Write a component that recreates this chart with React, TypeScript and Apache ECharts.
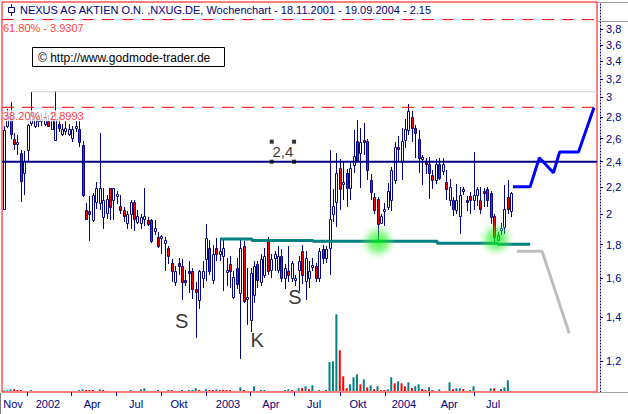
import React, { useEffect, useRef } from 'react';
import * as echarts from 'echarts';

// ---- Weekly candles (week index 0 = week of 14.11.2001) ----
const opens = [
  2.04, 2.72, 2.80, 2.60, 2.55, 2.47, 2.31, 2.50, 2.75, 2.72,
  2.76, 2.78, 2.74, 2.76, 2.69, 2.59, 2.74, 2.64, 2.67, 2.64,
  2.61, 2.70, 2.69, 2.54, 2.03, 2.02, 1.96, 2.09, 2.08, 1.98,
  2.01, 2.19, 2.10, 2.14, 2.06, 2.03, 1.94, 2.00, 2.09, 1.95,
  1.94, 1.97, 1.96, 1.96, 1.89, 1.85, 1.85, 1.81, 1.78, 1.69,
  1.58, 1.69, 1.67, 1.59, 1.64, 1.64, 1.54, 1.485, 1.60, 1.71,
  1.78, 1.59, 1.78, 1.74, 1.73, 1.64, 1.68, 1.50, 1.66, 1.52,
  1.79, 1.49, 1.385, 1.51, 1.68, 1.58, 1.62, 1.83, 1.65, 1.72,
  1.65, 1.73, 1.60, 1.64, 1.60, 1.59, 1.65, 1.76, 1.585, 1.60,
  1.67, 1.67, 1.60, 1.77, 1.72, 1.78, 2.00, 2.09, 2.35, 2.22,
  2.31, 2.19, 2.37, 2.58, 2.47, 2.59, 2.58, 2.25, 2.12, 2.11,
  1.94, 2.03, 2.05, 2.10, 2.25, 2.53, 2.40, 2.59, 2.68, 2.80,
  2.70, 2.60, 2.43, 2.40, 2.38, 2.29, 2.25, 2.38, 2.32, 2.24,
  2.10, 2.10, 2.03, 1.99, 2.18, 2.10, 2.13, 2.10, 2.14, 2.10,
  2.17, 2.18, 2.15, 1.99, 1.83, 1.90, 1.91, 2.12, 2.02,
];
const highs = [
  2.72, 2.88, 2.95, 2.65, 2.63, 2.50, 2.49, 2.74, 3.06, 2.84,
  2.85, 2.84, 2.86, 2.82, 2.84, 3.07, 2.80, 2.74, 2.76, 2.74,
  2.72, 2.76, 2.76, 2.58, 2.08, 2.13, 2.15, 2.24, 2.65, 2.19,
  2.14, 2.19, 2.19, 2.17, 2.14, 2.05, 2.02, 2.10, 2.10, 2.03,
  2.00, 2.19, 1.98, 1.97, 1.96, 1.88, 1.86, 1.85, 1.79, 1.71,
  1.67, 1.72, 1.71, 1.65, 1.70, 1.66, 1.58, 1.65, 1.70, 1.93,
  1.83, 1.80, 1.84, 1.84, 1.84, 1.72, 1.73, 1.64, 1.72, 1.83,
  1.82, 1.66, 1.66, 1.70, 1.70, 1.74, 1.78, 1.85, 1.74, 1.76,
  1.79, 1.77, 1.68, 1.79, 1.70, 1.62, 1.73, 1.80, 1.76, 1.70,
  1.72, 1.69, 1.78, 1.80, 1.79, 2.50, 2.18, 2.47, 2.42, 2.40,
  2.34, 2.39, 2.68, 2.77, 2.70, 2.75, 2.60, 2.30, 2.15, 2.12,
  2.00, 2.08, 2.23, 2.36, 2.57, 2.62, 2.70, 2.78, 2.93, 2.86,
  2.73, 2.68, 2.46, 2.43, 2.44, 2.33, 2.42, 2.43, 2.43, 2.33,
  2.26, 2.12, 2.22, 2.20, 2.20, 2.13, 2.16, 2.48, 2.20, 2.20,
  2.19, 2.20, 2.17, 2.00, 1.88, 1.94, 2.21, 2.25, 2.16,
];
const lows = [
  2.03, 2.70, 2.60, 2.50, 2.46, 2.09, 2.14, 2.40, 2.72, 2.70,
  2.71, 2.72, 2.72, 2.71, 2.68, 2.58, 2.66, 2.62, 2.63, 2.62,
  2.57, 2.66, 2.53, 2.12, 1.96, 1.82, 1.95, 2.04, 2.03, 1.90,
  1.97, 1.96, 1.96, 2.07, 2.00, 1.95, 1.90, 1.90, 1.89, 1.93,
  1.90, 1.92, 1.92, 1.81, 1.86, 1.78, 1.745, 1.64, 1.68, 1.58,
  1.56, 1.62, 1.485, 1.56, 1.52, 1.49, 1.30, 1.44, 1.55, 1.585,
  1.62, 1.57, 1.70, 1.70, 1.53, 1.56, 1.55, 1.49, 1.54, 1.21,
  1.47, 1.36, 1.33, 1.47, 1.55, 1.56, 1.60, 1.62, 1.60, 1.64,
  1.63, 1.58, 1.54, 1.58, 1.58, 1.56, 1.53, 1.57, 1.485, 1.55,
  1.64, 1.58, 1.58, 1.68, 1.69, 1.62, 1.95, 1.91, 2.03, 2.10,
  2.05, 2.10, 2.31, 2.40, 2.19, 2.46, 2.25, 2.10, 2.00, 1.81,
  1.93, 1.92, 2.03, 2.02, 2.22, 2.40, 2.25, 2.52, 2.63, 2.57,
  2.43, 2.31, 2.21, 2.30, 2.11, 2.18, 2.22, 2.25, 2.29, 2.10,
  2.06, 1.99, 2.00, 1.87, 2.14, 2.02, 2.00, 2.03, 2.06, 2.00,
  2.05, 2.05, 1.93, 1.80, 1.82, 1.86, 1.87, 2.00, 1.98,
];
const closes = [
  2.68, 2.82, 2.64, 2.55, 2.57, 2.245, 2.41, 2.73, 2.85, 2.80,
  2.80, 2.76, 2.80, 2.72, 2.78, 2.78, 2.70, 2.69, 2.70, 2.69,
  2.69, 2.72, 2.57, 2.14, 1.97, 2.00, 2.14, 2.19, 2.19, 2.10,
  2.11, 2.05, 2.19, 2.145, 2.03, 1.99, 2.00, 2.09, 1.97, 1.99,
  1.98, 1.99, 1.93, 1.82, 1.905, 1.79, 1.855, 1.83, 1.73, 1.64,
  1.64, 1.67, 1.58, 1.585, 1.63, 1.54, 1.525, 1.64, 1.64, 1.84,
  1.645, 1.74, 1.74, 1.76, 1.78, 1.65, 1.64, 1.61, 1.57, 1.78,
  1.48, 1.50, 1.63, 1.67, 1.59, 1.71, 1.73, 1.64, 1.71, 1.74,
  1.73, 1.60, 1.66, 1.62, 1.69, 1.60, 1.70, 1.62, 1.72, 1.645,
  1.675, 1.60, 1.76, 1.72, 1.77, 1.97, 2.06, 2.31, 2.18, 2.24,
  2.19, 2.35, 2.45, 2.41, 2.57, 2.57, 2.33, 2.16, 2.03, 1.93,
  1.985, 2.04, 2.17, 2.33, 2.53, 2.51, 2.58, 2.69, 2.86, 2.70,
  2.65, 2.43, 2.44, 2.39, 2.31, 2.25, 2.38, 2.27, 2.38, 2.18,
  2.20, 2.04, 2.10, 2.14, 2.185, 2.095, 2.10, 2.14, 2.18, 2.04,
  2.15, 2.10, 1.98, 1.85, 1.86, 1.905, 2.04, 2.04, 2.15,
];
// weekly volume (relative units) and its colour flag (1 = teal, 0 = red)
const volumes = [
  7, 7, 17, 17, 10, 10, 0, 0, 10, 0,
  0, 0, 0, 0, 0, 0, 0, 0, 0, 0,
  0, 0, 10, 17, 10, 10, 10, 0, 17, 10,
  0, 0, 0, 0, 0, 0, 0, 10, 0, 0,
  17, 27, 0, 0, 0, 10, 0, 0, 10, 10,
  0, 0, 10, 0, 10, 10, 27, 10, 0, 17,
  10, 10, 17, 10, 10, 10, 10, 0, 0, 37,
  10, 0, 0, 47, 0, 10, 10, 0, 0, 0,
  0, 0, 10, 17, 10, 0, 27, 30, 47, 20,
  57, 0, 10, 0, 10, 290, 297, 767, 407, 147,
  30, 67, 137, 167, 67, 117, 37, 57, 20, 47,
  10, 10, 17, 137, 77, 97, 77, 47, 87, 30,
  47, 67, 20, 10, 37, 10, 0, 17, 0, 0,
  87, 20, 27, 27, 20, 0, 10, 47, 0, 0,
  0, 0, 27, 27, 0, 20, 37, 107, 0,
];
const volumeUp = [
  1, 1, 1, 0, 0, 0, 1, 1, 1, 1,
  1, 1, 1, 1, 1, 1, 1, 1, 1, 1,
  1, 1, 1, 1, 0, 0, 0, 1, 1, 0,
  1, 1, 1, 1, 1, 1, 1, 1, 1, 1,
  1, 1, 1, 1, 1, 1, 1, 1, 1, 0,
  1, 1, 1, 1, 1, 1, 1, 0, 1, 1,
  0, 0, 1, 0, 0, 0, 0, 1, 1, 1,
  0, 1, 1, 1, 1, 1, 1, 1, 1, 1,
  1, 1, 1, 1, 0, 1, 1, 0, 1, 0,
  1, 1, 1, 1, 1, 1, 1, 1, 0, 0,
  0, 1, 1, 1, 0, 1, 0, 1, 0, 1,
  0, 0, 1, 1, 0, 1, 0, 0, 1, 0,
  1, 1, 0, 0, 1, 0, 1, 1, 1, 1,
  1, 0, 1, 1, 0, 1, 1, 1, 1, 1,
  1, 1, 1, 0, 1, 1, 1, 1, 1,
];

// ---- Axis ticks / labels ----
const xTickWeeks = [6.857, 19.714, 32.714, 45.857, 59, 71.857, 84.857, 98, 111.143, 124.143, 137.143];
const xLabelWeeks = [2.7, 12.9, 25.8, 38.6, 51.1, 65.4, 77.9, 90.5, 103.3, 116.7, 129.9, 142.7];
const xLabelTexts = ['Nov', '2002', 'Apr', 'Jul', 'Okt', '2003', 'Apr', 'Jul', 'Okt', '2004', 'Apr', 'Jul'];
const yTicks = [1.2, 1.4, 1.6, 1.8, 2, 2.2, 2.4, 2.6, 2.8, 3, 3.2, 3.4, 3.6, 3.8];

// ---- Annotations ----
const fibTexts = ['61.80% - 3.9307', '38.20% - 2.8993'];
const fibValues = [3.9307, 2.8993];
const resistanceValue = 2.4;
const priorHighStart = 8;
const priorHighValue = 3.06;
const lastPrice = 2.15;
const supportWeeks = [63.1, 72.4, 72.4, 90.2, 90.2, 126.4, 126.4, 144.1, 144.1, 153.5];
const supportValues = [1.835, 1.835, 1.826, 1.826, 1.8205, 1.8205, 1.808, 1.808, 1.8016, 1.8016];
const bullWeeks = [148.5, 153.5, 156.2, 160.3, 162.1, 167.6, 172.1];
const bullValues = [2.2, 2.2, 2.434, 2.31, 2.482, 2.482, 2.895];
const bearWeeks = [149.6, 157.0, 164.9];
const bearValues = [1.758, 1.758, 1.3227];
const glowWeeks = [109.2, 143.6];
const glowValues = [1.818, 1.835];
const letterWeeks = [51.9, 73.9, 84.9];
const letterValues = [1.38, 1.292, 1.502];
const letterTexts = ['S', 'K', 'S'];
const handleWeeks = [78.15, 84.66];
const handleValues = [2.573, 2.4];
const lineLabelText = '2,4';

const TITLE = 'NEXUS AG AKTIEN O.N. ,NXUG.DE, Wochenchart - 18.11.2001 - 19.09.2004 - 2.15';
const NAVY = '#000080';
const TEAL = '#008080';
const RED = '#FF0000';
const FONT = '"Liberation Sans", Arial, sans-serif';
const PMIN = 1.0788;
const PMAX = 4.179;
const XMIN = -0.5;
const XMAX = 173;

function fmtPrice(p: number) {
  return String(Number(p.toFixed(1))).replace('.', ',');
}

function hLine(value: number, fromWeek: number, style: any, z: number) {
  return {
    type: 'line', xAxisIndex: 0, yAxisIndex: 0, z, silent: true, symbol: 'none',
    data: [[fromWeek, value], [XMAX, value]],
    lineStyle: style,
  };
}

function buildOption() {
  const weeks = opens.map((_, i) => i);
  const candleData = weeks.map((i) => [i, opens[i], closes[i], lows[i], highs[i]]);
  const renderCandle = (params: any, api: any) => {
    const x = api.value(0);
    const o = api.value(1);
    const c = api.value(2);
    const l = api.value(3);
    const h = api.value(4);
    const pO = api.coord([x, o]);
    const pC = api.coord([x, c]);
    const pL = api.coord([x, l]);
    const pH = api.coord([x, h]);
    const cx = Math.round(pO[0]);
    const top = Math.round(Math.min(pO[1], pC[1]));
    const bot = Math.max(Math.round(Math.max(pO[1], pC[1])), top + 2);
    const up = c >= o;
    return {
      type: 'group',
      children: [
        {
          type: 'line',
          shape: { x1: cx + 0.5, y1: Math.round(pH[1]), x2: cx + 0.5, y2: Math.round(pL[1]) },
          style: { stroke: NAVY, lineWidth: 1 },
        },
        {
          type: 'rect',
          shape: { x: cx - 0.5, y: top + 0.5, width: 2, height: bot - top },
          style: { fill: up ? '#FFFFFF' : RED, stroke: NAVY, lineWidth: 1 },
        },
      ],
    };
  };

  const glowColor = {
    type: 'radial', x: 0.5, y: 0.5, r: 0.5,
    colorStops: [
      { offset: 0, color: 'rgba(0,255,0,0.95)' },
      { offset: 0.5, color: 'rgba(40,240,40,0.6)' },
      { offset: 1, color: 'rgba(150,255,150,0)' },
    ],
  };

  const textLabelSeries = (pts: number[][], labelOpt: any, z: number) => ({
    type: 'scatter', xAxisIndex: 0, yAxisIndex: 0, z, silent: true,
    symbol: 'circle', symbolSize: 1, itemStyle: { color: 'transparent' },
    data: pts,
    label: { show: true, fontFamily: FONT, ...labelOpt },
  });

  return {
    animation: false,
    backgroundColor: '#FFFFFF',
    textStyle: { fontFamily: FONT },
    grid: [
      { left: 2, top: 2, width: 595, height: 390, show: true, borderColor: RED, borderWidth: 1, backgroundColor: 'transparent' },
      { left: 2, top: 311, width: 595, height: 80, show: false },
    ],
    xAxis: [
      {
        type: 'value', gridIndex: 0, min: XMIN, max: XMAX,
        splitLine: { show: false },
        axisLine: { show: false },
        axisTick: { show: true, customValues: xTickWeeks, length: 4, lineStyle: { color: NAVY } },
        axisLabel: {
          show: true, customValues: xLabelWeeks, color: NAVY, fontSize: 11, margin: 6, fontFamily: FONT,
          formatter: (v: number) => {
            const k = xLabelWeeks.findIndex((p) => Math.abs(p - v) < 1e-6);
            return k >= 0 ? xLabelTexts[k] : '';
          },
        },
      },
      { type: 'value', gridIndex: 1, min: XMIN, max: XMAX, show: false },
    ],
    yAxis: [
      { type: 'log', gridIndex: 0, min: PMIN, max: PMAX, logBase: 10, show: false, splitLine: { show: false } },
      {
        type: 'value', gridIndex: 0, position: 'right', offset: 3,
        min: Math.log(PMIN), max: Math.log(PMAX),
        splitLine: { show: false },
        axisLine: { show: true, lineStyle: { color: NAVY, width: 1, type: [1, 2] } },
        axisTick: { show: true, customValues: yTicks.map((t) => Math.log(t)), length: 3, lineStyle: { color: NAVY } },
        axisLabel: {
          show: true, customValues: yTicks.map((t) => Math.log(t)), color: NAVY, fontSize: 11, margin: 6, fontFamily: FONT,
          formatter: (v: number) => fmtPrice(Math.exp(v)),
        },
      },
      { type: 'value', gridIndex: 1, min: 0, max: 800, show: false },
    ],
    series: [
      {
        type: 'bar', xAxisIndex: 1, yAxisIndex: 2, barWidth: 2, z: 1, silent: true,
        data: weeks.map((i) => ({ value: [i, volumes[i]], itemStyle: { color: volumeUp[i] ? TEAL : RED } })),
      },
      {
        type: 'custom', xAxisIndex: 0, yAxisIndex: 0, z: 2, silent: true,
        data: candleData, encode: { x: 0, y: [1, 2, 3, 4] },
        renderItem: renderCandle,
      },
      hLine(priorHighValue, priorHighStart, { color: '#D0D0D0', width: 1, type: 'solid' }, 3),
      hLine(resistanceValue, XMIN, { color: NAVY, width: 2, type: 'solid' }, 3),
      hLine(fibValues[0], XMIN, { color: RED, width: 1, type: [12, 8] }, 3),
      hLine(fibValues[1], XMIN, { color: RED, width: 1, type: [12, 8] }, 3),
      textLabelSeries([[XMIN, fibValues[0]]], { position: [1.5, 3.5], align: 'left', verticalAlign: 'top', color: RED, fontSize: 11, formatter: fibTexts[0] }, 7),
      textLabelSeries([[XMIN, fibValues[1]]], { position: [1.5, 3.5], align: 'left', verticalAlign: 'top', color: RED, fontSize: 11, formatter: fibTexts[1], backgroundColor: '#FFFFFF', padding: [0, 1, 0, 0] }, 7),
      {
        type: 'line', xAxisIndex: 0, yAxisIndex: 0, z: 4, silent: true, symbol: 'none',
        data: supportWeeks.map((w, k) => [w, supportValues[k]]),
        lineStyle: { color: TEAL, width: 3 },
        markLine: {
          silent: true, symbol: ['none', 'none'], animation: false,
          lineStyle: { opacity: 0 },
          data: [
            {
              yAxis: lastPrice,
              label: { show: true, position: 'end', formatter: String(lastPrice), color: '#000000', fontSize: 11, fontFamily: FONT, backgroundColor: '#FFFFE1', padding: [2, 3, 1, 3], distance: 7 },
            },
          ],
        },
      },
      {
        type: 'line', xAxisIndex: 0, yAxisIndex: 0, z: 4, silent: true, symbol: 'none',
        data: bullWeeks.map((w, k) => [w, bullValues[k]]),
        lineStyle: { color: '#0000FF', width: 3 },
      },
      {
        type: 'line', xAxisIndex: 0, yAxisIndex: 0, z: 4, silent: true, symbol: 'none',
        data: bearWeeks.map((w, k) => [w, bearValues[k]]),
        lineStyle: { color: '#BEBEBE', width: 3 },
      },
      {
        type: 'scatter', xAxisIndex: 0, yAxisIndex: 0, z: 5, silent: true,
        symbol: 'circle', symbolSize: 36,
        data: glowWeeks.map((w, k) => [w, glowValues[k]]),
        itemStyle: { color: glowColor },
      },
      {
        type: 'scatter', xAxisIndex: 0, yAxisIndex: 0, z: 6, silent: true,
        symbol: 'circle', symbolSize: 1, itemStyle: { color: 'transparent' },
        data: letterWeeks.map((w, k) => [w, letterValues[k]]),
        label: {
          show: true, position: 'inside', color: '#000000', fontSize: 20, fontFamily: FONT,
          formatter: (p: any) => letterTexts[p.dataIndex],
        },
      },
      {
        type: 'scatter', xAxisIndex: 0, yAxisIndex: 0, z: 6, silent: true,
        symbol: 'rect', symbolSize: 4, itemStyle: { color: '#000000' },
        data: [
          [handleWeeks[0], handleValues[0]], [handleWeeks[1], handleValues[0]],
          [handleWeeks[0], handleValues[1]], [handleWeeks[1], handleValues[1]],
        ],
      },
      textLabelSeries(
        [[(handleWeeks[0] + handleWeeks[1]) / 2, Math.sqrt(handleValues[0] * handleValues[1])]],
        { position: 'inside', color: '#000000', fontSize: 15, formatter: lineLabelText },
        6,
      ),
    ],
    graphic: [
      { type: 'line', z: 100, shape: { x1: 11.5, y1: 4, x2: 11.5, y2: 16 }, style: { stroke: NAVY, lineWidth: 1 } },
      { type: 'rect', z: 101, shape: { x: 8.5, y: 7.5, width: 6, height: 5 }, style: { fill: '#FFFFFF', stroke: NAVY, lineWidth: 1 } },
      { type: 'text', z: 100, x: 20, y: 10, style: { text: TITLE, fill: NAVY, fontSize: 11, fontFamily: FONT, verticalAlign: 'middle' } },
      { type: 'rect', z: 100, shape: { x: 32.5, y: 47.5, width: 192, height: 19 }, style: { fill: '#FFFFFF', stroke: '#000000', lineWidth: 1 } },
      { type: 'text', z: 101, x: 38, y: 57.5, style: { text: '\u00A9 http://www.godmode-trader.de', fill: '#000000', fontSize: 12, fontFamily: FONT, verticalAlign: 'middle' } },
      { type: 'line', z: 100, shape: { x1: 597, y1: 2.5, x2: 628, y2: 2.5 }, style: { stroke: '#A0A0A0', lineWidth: 1 } },
      { type: 'line', z: 100, shape: { x1: 597, y1: 21.5, x2: 628, y2: 21.5 }, style: { stroke: '#A0A0A0', lineWidth: 1 } },
      { type: 'line', z: 100, shape: { x1: 597, y1: 392.5, x2: 628, y2: 392.5 }, style: { stroke: '#A0A0A0', lineWidth: 1 } },
      { type: 'line', z: 100, shape: { x1: 0.5, y1: 393, x2: 0.5, y2: 414 }, style: { stroke: '#808080', lineWidth: 1 } },
    ],
  };
}

export default function App() {
  const ref = useRef<HTMLDivElement>(null);
  useEffect(() => {
    if (!ref.current) return;
    const chart = echarts.init(ref.current, null, { renderer: 'svg' });
    chart.setOption(buildOption() as any);
    return () => chart.dispose();
  }, []);
  return (
    <div
      ref={ref}
      style={{ position: 'absolute', left: 0, top: 0, width: 628, height: 414, background: '#FFFFFF' }}
    />
  );
}
